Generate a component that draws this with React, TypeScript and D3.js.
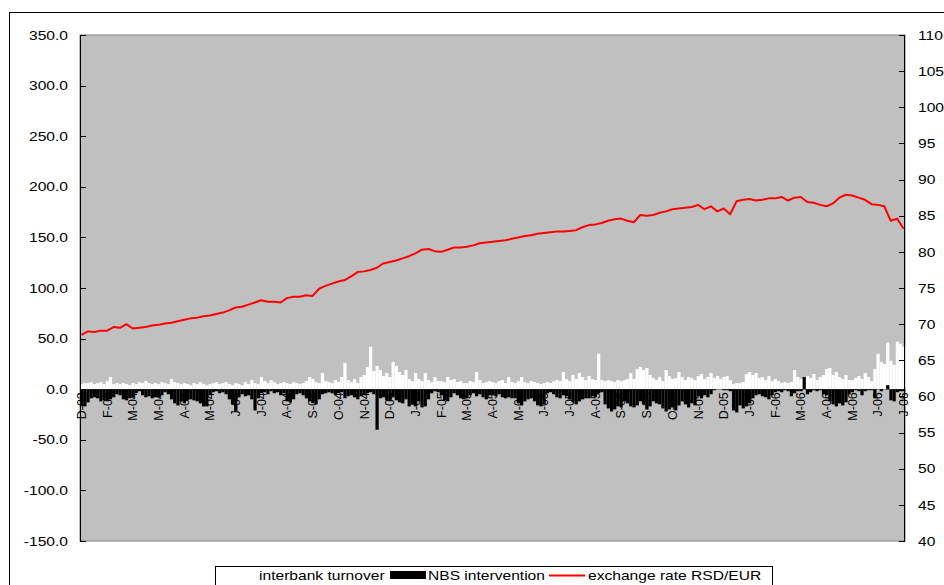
import { line, scaleBand, scaleLinear } from 'd3';

// Interbank FX market, Dec 2003 - Jul 2006. Bars: 8 observations per label step.
const monthLabels = [
  'D-03', 'F-04', 'M-04', 'M-04', 'A-04', 'M-04', 'J-04', 'J-04', 'A-04', 'S-04', 'O-04',
  'N-04', 'D-04', 'J-05', 'F-05', 'M-05', 'A-05', 'M-05', 'J-05', 'J-05', 'A-05', 'S-05',
  'S-05', 'O-05', 'N-05', 'D-05', 'J-06', 'F-06', 'M-06', 'A-06', 'M-06', 'J-06', 'J-06',
];

// interbank turnover (left axis, positive)
const turnover = [
  5, 6, 6, 7, 5, 6, 7, 5, 8, 12, 5, 6, 5, 6, 5, 4, 6, 5, 7, 6, 8, 6, 5, 6, 5, 7, 6, 5, 10, 7, 6, 5,
  6, 5, 4, 6, 5, 7, 5, 4, 5, 6, 7, 5, 6, 7, 5, 4, 6, 5, 4, 7, 5, 9, 6, 5, 12, 8, 6, 9, 7, 5, 6, 7,
  6, 5, 7, 6, 5, 6, 8, 12, 10, 7, 6, 16, 8, 7, 6, 9, 7, 12, 26, 9, 7, 10, 6, 12, 14, 22, 42, 18, 23, 19, 13, 16,
  12, 27, 23, 17, 14, 19, 10, 8, 16, 10, 8, 16, 9, 7, 12, 8, 8, 7, 12, 9, 10, 7, 8, 6, 6, 8, 7, 17, 9, 6, 7, 8,
  7, 6, 8, 9, 6, 12, 7, 6, 8, 12, 7, 6, 8, 7, 6, 5, 6, 7, 6, 8, 9, 8, 17, 10, 8, 14, 10, 16, 12, 9, 13, 10,
  9, 35, 9, 8, 9, 8, 7, 9, 8, 9, 10, 16, 10, 20, 22, 19, 21, 14, 11, 9, 12, 8, 19, 13, 10, 11, 17, 12, 9, 12, 11, 9,
  13, 15, 10, 12, 16, 11, 13, 10, 12, 13, 9, 5, 6, 6, 7, 15, 17, 14, 16, 11, 12, 9, 13, 8, 10, 8, 6, 7, 6, 7, 19, 12,
  10, 9, 13, 11, 15, 9, 12, 14, 20, 21, 14, 17, 12, 10, 14, 9, 9, 11, 13, 10, 16, 12, 8, 20, 35, 27, 25, 46, 28, 24, 47, 45,
  42,
];

// NBS intervention (left axis, mostly negative)
const intervention = [
  -17, -17, -13, -9, -8, -9, -12, -11, -12, -10, -8, -5, -6, -10, -11, -9, -8, -4, -2, -6, -8, -7, -9, -8,
  -8, -6, -3, -5, -10, -14, -16, -12, -14, -11, -10, -11, -12, -14, -17, -17, -6, -3, -2, -4, -3, -5, -10, -15,
  -22, -8, -5, -7, -6, -10, -21, -9, -4, -3, -5, -2, -4, -3, -6, -4, -12, -13, -10, -5, -4, -6, -9, -12,
  -14, -15, -10, -5, -4, -3, -4, -5, -4, -3, -9, -7, -6, -8, -10, -7, -6, -4, -3, -5, -40, -9, -8, -11,
  -12, -8, -11, -13, -14, -10, -17, -15, -17, -12, -18, -17, -10, -4, -2, -3, -6, -11, -12, -8, -4, -6, -9, -10,
  -9, -6, -4, -7, -5, -8, -10, -6, -6, -7, -5, -8, -9, -8, -9, -8, -14, -16, -12, -10, -9, -12, -16, -17,
  -15, -4, -3, -5, -8, -9, -6, -7, -10, -13, -15, -12, -10, -9, -9, -7, -8, -4, -3, -15, -19, -22, -20, -17,
  -18, -12, -14, -17, -18, -16, -12, -15, -20, -17, -12, -14, -15, -19, -22, -20, -18, -21, -16, -12, -15, -18, -14, -16,
  -7, -9, -6, -8, -5, -1, 0, 0, -1, -1, -2, -21, -23, -16, -19, -17, -14, -9, -6, -5, -7, -8, -10, -6,
  -3, -2, -3, -1, -2, -7, -4, -2, -2, 12, -5, -3, -1, -2, -1, -5, -6, -12, -15, -17, -14, -16, -13, -5,
  -3, -1, -2, -6, -2, -1, -1, -9, 0, -2, 0, 4, -11, -12, -3, -2,
  -2,
];

// exchange rate RSD/EUR (right axis), every second observation
const rate = [
  68.5, 69.0, 68.9, 69.1, 69.1, 69.6, 69.5, 70.0, 69.4, 69.5, 69.6, 69.8, 69.9, 70.1, 70.2, 70.4,
  70.6, 70.8, 70.9, 71.1, 71.2, 71.4, 71.6, 71.9, 72.3, 72.4, 72.7, 73.0, 73.3, 73.1, 73.1, 73.0,
  73.6, 73.8, 73.8, 74.0, 73.9, 74.9, 75.3, 75.6, 75.9, 76.1, 76.6, 77.2, 77.3, 77.5, 77.8, 78.4,
  78.6, 78.8, 79.1, 79.4, 79.8, 80.3, 80.4, 80.1, 80.0, 80.3, 80.6, 80.6, 80.7, 80.9, 81.2, 81.3,
  81.4, 81.5, 81.6, 81.8, 82.0, 82.2, 82.3, 82.5, 82.6, 82.7, 82.8, 82.8, 82.9, 83.0, 83.4, 83.7,
  83.8, 84.0, 84.3, 84.5, 84.6, 84.3, 84.1, 85.1, 85.0, 85.1, 85.4, 85.6, 85.9, 86.0, 86.1, 86.2,
  86.5, 85.9, 86.3, 85.6, 86.0, 85.2, 87.0, 87.2, 87.3, 87.1, 87.2, 87.4, 87.4, 87.6, 87.1, 87.5,
  87.6, 86.9, 86.8, 86.5, 86.3, 86.7, 87.5, 87.9, 87.8, 87.5, 87.2, 86.6, 86.5, 86.3, 84.3, 84.6,
  83.2,
];

const leftTicks = [-150, -100, -50, 0, 50, 100, 150, 200, 250, 300, 350];
const rightTicks = [40, 45, 50, 55, 60, 65, 70, 75, 80, 85, 90, 95, 100, 105, 110];

const FONT = "'Liberation Sans', Arial, sans-serif";
const SX = 1.2; // the original image is stretched horizontally

export default function App() {
  const W = 944;
  const H = 585;
  const plot = { left: 80, right: 905, top: 35, bottom: 541 };

  const x = scaleBand<number>()
    .domain(turnover.map((_d, i) => i))
    .range([plot.left, plot.right])
    .paddingInner(0.12);
  const bw = x.bandwidth();
  const yL = scaleLinear().domain([-150, 350]).range([plot.bottom, plot.top]);
  const yR = scaleLinear().domain([40, 110]).range([plot.bottom, plot.top]);
  const y0 = yL(0);

  const rateLine = line<number>()
    .x((_d, i) => (x(i * 2) ?? 0) + bw / 2)
    .y((d) => yR(d));

  return (
    <svg width={W} height={H} style={{ position: 'absolute', left: 0, top: 0, background: '#fff' }} fontFamily={FONT}>
      <rect x={9.5} y={12.5} width={960} height={600} fill="#fff" stroke="#000" strokeWidth={1} />
      <rect x={plot.left} y={plot.top} width={plot.right - plot.left} height={plot.bottom - plot.top} fill="#C0C0C0" stroke="#808080" strokeWidth={1} />

      <line x1={plot.left} x2={plot.right} y1={y0} y2={y0} stroke="#404040" strokeWidth={1} />

      {turnover.map((d, i) => (
        <rect key={`t${i}`} x={x(i)} y={yL(d)} width={bw + 0.4} height={y0 - yL(d)} fill="#fff" />
      ))}
      {intervention.map((d, i) => (
        <rect key={`n${i}`} x={x(i)} y={Math.min(yL(d), y0)} width={bw + 0.4} height={Math.abs(yL(d) - y0)} fill="#000" />
      ))}

      <path d={rateLine(rate) ?? undefined} fill="none" stroke="#FF0000" strokeWidth={2} strokeLinejoin="round" />

      <line x1={plot.left + 0.5} x2={plot.left + 0.5} y1={plot.top} y2={plot.bottom} stroke="#000" />
      <line x1={plot.right - 0.5} x2={plot.right - 0.5} y1={plot.top} y2={plot.bottom} stroke="#000" />
      {leftTicks.map((t) => (
        <g key={`l${t}`}>
          <line x1={plot.left} x2={plot.left + 6} y1={Math.round(yL(t)) + 0.5} y2={Math.round(yL(t)) + 0.5} stroke="#000" />
          <text transform={`translate(68,${yL(t)}) scale(${SX},1)`} dy="0.36em" textAnchor="end" fontSize={13} fill="#000">
            {t.toFixed(1)}
          </text>
        </g>
      ))}
      {rightTicks.map((t) => (
        <g key={`r${t}`}>
          <line x1={plot.right - 6} x2={plot.right} y1={Math.round(yR(t)) + 0.5} y2={Math.round(yR(t)) + 0.5} stroke="#000" />
          <text transform={`translate(918,${yR(t)}) scale(${SX},1)`} dy="0.36em" textAnchor="start" fontSize={13} fill="#000">
            {t}
          </text>
        </g>
      ))}
      {monthLabels.map((m, i) => {
        const cx = (x(i * 8) ?? 0) + bw / 2;
        return (
          <text key={`m${i}`} transform={`translate(${cx + 4.5},${y0 + 3}) rotate(-90)`} textAnchor="end" fontSize={12.5} fill="#000">
            {m}
          </text>
        );
      })}

      {/* legend */}
      <rect x={215.5} y={566.5} width={557} height={30} fill="#fff" stroke="#000" />
      <g fontSize={13} fill="#000">
        <text transform={`translate(259,580) scale(${SX},1)`}>interbank turnover</text>
        <rect x={390} y={571} width={36} height={8} fill="#000" />
        <text transform={`translate(428,580) scale(${SX},1)`}>NBS intervention</text>
        <line x1={549} x2={585} y1={575.5} y2={575.5} stroke="#FF0000" strokeWidth={2} />
        <text transform={`translate(588,580) scale(${SX},1)`}>exchange rate RSD/EUR</text>
      </g>
    </svg>
  );
}
